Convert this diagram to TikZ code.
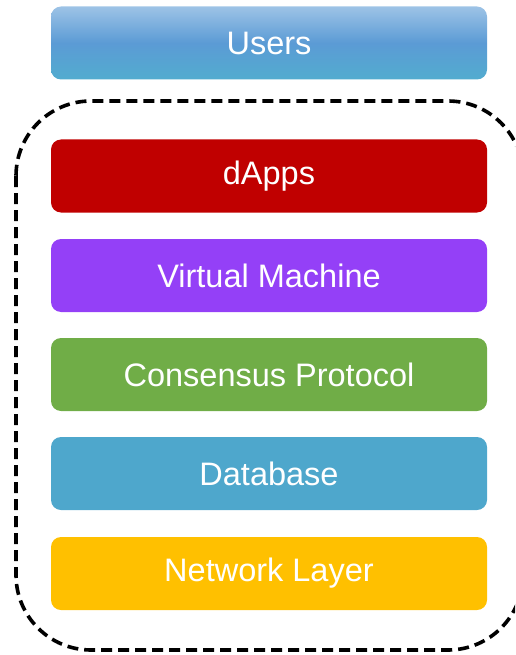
\documentclass[tikz,border=0pt]{standalone}
\usepackage{fontspec}
\setmainfont{Liberation Sans}
\definecolor{usertop}{HTML}{9DC3E6}
\definecolor{usermid}{HTML}{5B9BD5}
\definecolor{userbot}{HTML}{52ACCF}
\definecolor{dappsred}{HTML}{C00000}
\definecolor{vmpurple}{HTML}{9440F7}
\definecolor{consgreen}{HTML}{70AD47}
\definecolor{dbblue}{HTML}{4EA7CC}
\definecolor{netyellow}{HTML}{FFC000}
\tikzset{
  layer/.style={rounded corners=10pt, minimum width=436pt, minimum height=73pt,
    inner sep=0pt, text=white, font=\fontsize{32.5}{38}\selectfont},
  stackframe/.style={draw=black, line width=3.6pt, dash pattern=on 11pt off 6pt,
    rounded corners=75pt}
}
\begin{document}
\begin{tikzpicture}[x=1pt,y=-1pt]
  \useasboundingbox (0,0) rectangle (515,655);
  \clip (0,0) rectangle (515,655);
  % outer dashed frame around the blockchain stack
  \draw[stackframe] (16,101) rectangle (523,650);
  % layers
  \node[layer, top color=usertop, bottom color=userbot, middle color=usermid] (users) at (269,43) {Users};
  \node[layer, fill=dappsred] (dapps) at (269,176) {dApps};
  \node[layer, fill=vmpurple] (vm) at (269,275.5) {Virtual Machine};
  \node[layer, fill=consgreen] (cons) at (269,374.5) {Consensus Protocol};
  \node[layer, fill=dbblue] (db) at (269,473.5) {Database};
  \node[layer, fill=netyellow] (net) at (269,573.5) {Network Layer};
\end{tikzpicture}
\end{document}
